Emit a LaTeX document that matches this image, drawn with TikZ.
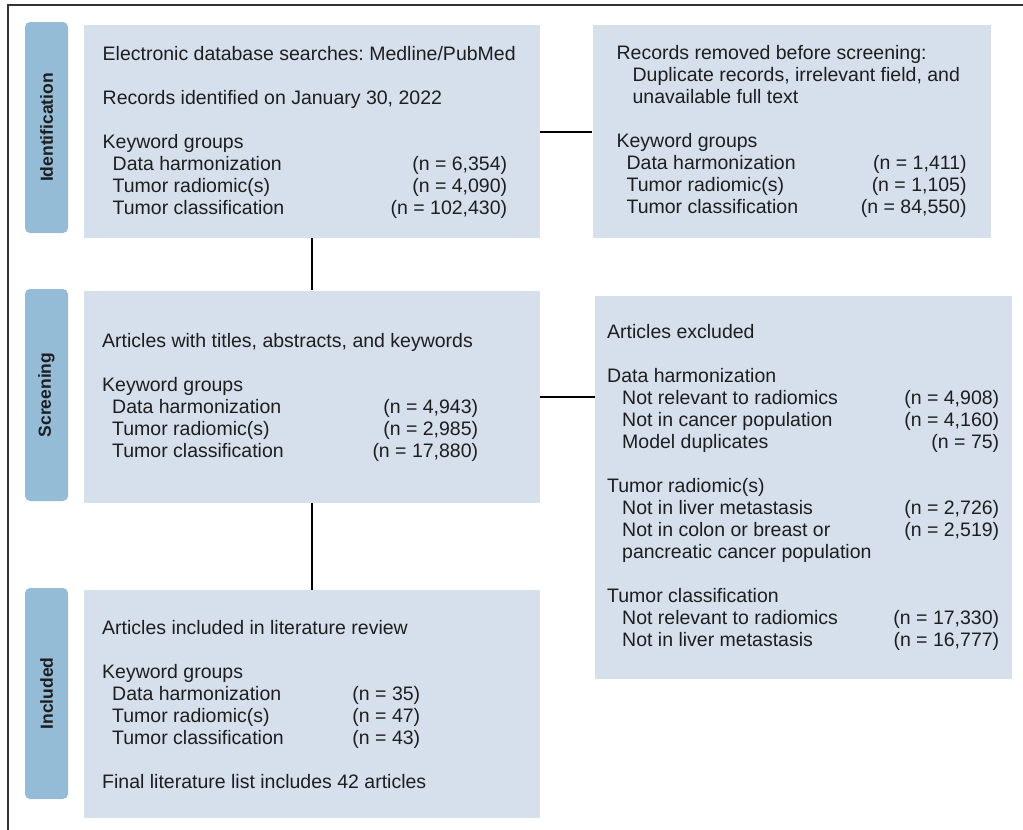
\documentclass[tikz,border=0pt]{standalone}
\usepackage{fontspec}
\setmainfont{Liberation Sans}
\usetikzlibrary{positioning}
\frenchspacing

\definecolor{boxfill}{RGB}{214,223,236}
\definecolor{tabfill}{RGB}{148,188,214}
\definecolor{inkblk}{RGB}{30,30,30}
% label left, count right, in a fixed width
\newcommand{\nrow}[3]{\makebox[#1][l]{#2\hfill(n = #3)}}

\begin{document}
\begin{tikzpicture}[x=1pt,y=-1pt,inner sep=0pt,
    box/.style={fill=boxfill,anchor=north west,minimum width=456pt},
    tabbox/.style={fill=tabfill,rounded corners=5pt,minimum width=43pt,
      font=\fontsize{17.5}{20}\selectfont\bfseries,text=inkblk},
    txt/.style={anchor=north west,text=inkblk,font=\fontsize{19.5}{22}\selectfont},
    link/.style={line width=2pt,black}]
	\useasboundingbox (0,0) rectangle (1023,830);
	\draw[line width=2pt,black!80] (8,830) -- (8,5) -- (1023,5);

	% boxes
	\node[box,minimum height=213pt] (box_id) at (84,25) {};
	\node[box,minimum width=398pt,minimum height=213pt] [right=52pt of box_id] (box_rm) {};
	\node[box,minimum height=212pt] [below=52pt of box_id] (box_sc) {};
	\node[box,minimum width=417pt,minimum height=383pt] (box_ex) at (595,296) {};
	\node[box,minimum height=228pt] [below=87pt of box_sc] (box_in) {};

	% stage tabs
	\node[tabbox,minimum height=211pt] (tab_id) at (46.5,127.5) {\rotatebox{90}{Identification}};
	\node[tabbox,minimum height=212pt] (tab_sc) at (46.5,395) {\rotatebox{90}{Screening}};
	\node[tabbox,minimum height=211pt] (tab_in) at (46.5,693.5) {\rotatebox{90}{Included}};

	% box texts
	\node[txt,below right=19.4pt and 18.5pt of box_id.north west] (txt_id) {%
		\begin{tabular}[t]{@{}l@{}}
		Electronic database searches: Medline/PubMed\\[22pt]
		Records identified on January 30, 2022\\[22pt]
		Keyword groups\\
		\hspace*{10pt}\nrow{394.5pt}{Data harmonization}{6,354}\\
		\hspace*{10pt}\nrow{394.5pt}{Tumor radiomic(s)}{4,090}\\
		\hspace*{10pt}\nrow{394.5pt}{Tumor classification}{102,430}
		\end{tabular}};
	\node[txt,below right=18.4pt and 24pt of box_rm.north west] (txt_rm) {%
		\begin{tabular}[t]{@{}l@{}}
		Records removed before screening:\\
		\hspace*{16pt}Duplicate records, irrelevant field, and\\
		\hspace*{16pt}unavailable full text\\[22pt]
		Keyword groups\\
		\hspace*{10pt}\nrow{340pt}{Data harmonization}{1,411}\\
		\hspace*{10pt}\nrow{340pt}{Tumor radiomic(s)}{1,105}\\
		\hspace*{10pt}\nrow{340pt}{Tumor classification}{84,550}
		\end{tabular}};
	\node[txt,below right=41.4pt and 18pt of box_sc.north west] (txt_sc) {%
		\begin{tabular}[t]{@{}l@{}}
		Articles with titles, abstracts, and keywords\\[22pt]
		Keyword groups\\
		\hspace*{10pt}\nrow{366pt}{Data harmonization}{4,943}\\
		\hspace*{10pt}\nrow{366pt}{Tumor radiomic(s)}{2,985}\\
		\hspace*{10pt}\nrow{366pt}{Tumor classification}{17,880}
		\end{tabular}};
	\node[txt,below right=26.4pt and 12pt of box_ex.north west] (txt_ex) {%
		\begin{tabular}[t]{@{}l@{}}
		Articles excluded\\[22pt]
		Data harmonization\\
		\hspace*{15pt}\nrow{377pt}{Not relevant to radiomics}{4,908}\\
		\hspace*{15pt}\nrow{377pt}{Not in cancer population}{4,160}\\
		\hspace*{15pt}\nrow{377pt}{Model duplicates}{75}\\[22pt]
		Tumor radiomic(s)\\
		\hspace*{15pt}\nrow{377pt}{Not in liver metastasis}{2,726}\\
		\hspace*{15pt}\nrow{377pt}{Not in colon or breast or}{2,519}\\
		\hspace*{15pt}pancreatic cancer population\\[22pt]
		Tumor classification\\
		\hspace*{15pt}\nrow{377pt}{Not relevant to radiomics}{17,330}\\
		\hspace*{15pt}\nrow{377pt}{Not in liver metastasis}{16,777}
		\end{tabular}};
	\node[txt,below right=29.4pt and 18pt of box_in.north west] (txt_in) {%
		\begin{tabular}[t]{@{}l@{}}
		Articles included in literature review\\[22pt]
		Keyword groups\\
		\hspace*{10pt}\nrow{308pt}{Data harmonization}{35}\\
		\hspace*{10pt}\nrow{308pt}{Tumor radiomic(s)}{47}\\
		\hspace*{10pt}\nrow{308pt}{Tumor classification}{43}\\[22pt]
		Final literature list includes 42 articles
		\end{tabular}};

	% connectors
	\draw[link] (box_id) -- (box_rm);
	\draw[link] (box_id) -- (box_sc);
	\draw[link] (box_sc.east) -- (box_sc.east -| box_ex.west);
	\draw[link] (box_sc) -- (box_in);
\end{tikzpicture}
\end{document}
